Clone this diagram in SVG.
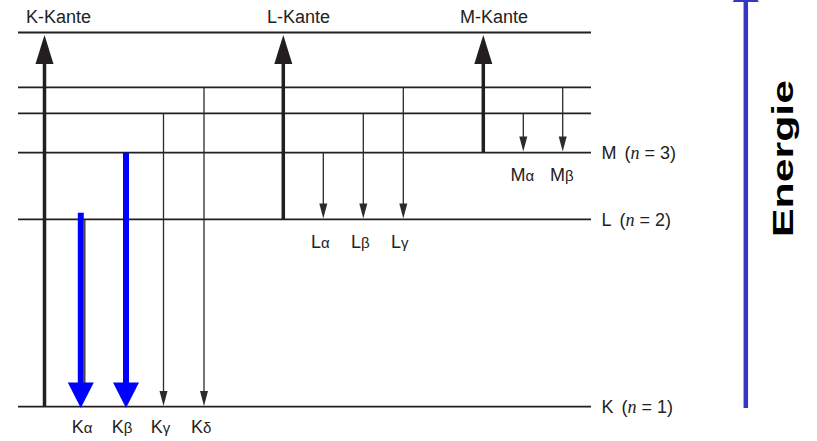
<svg xmlns="http://www.w3.org/2000/svg" xmlns:xlink="http://www.w3.org/1999/xlink" width="817" height="441" viewBox="0 0 817 441">
  <style>
    .level { stroke: #231f20; stroke-width: 1.8; fill: none; }
    .thin { stroke: #2b2b2b; stroke-width: 1.3; fill: none; }
    .edge { stroke: #231f20; stroke-width: 3.5; fill: none; }
    .blue { stroke: #0000ff; stroke-width: 6; fill: none; }
    .lbl { font-family: "Liberation Sans", Arial, sans-serif; font-size: 18px; fill: #222; }
    .sub { font-size: 15px; }
    .var { font-family: "Liberation Serif", "Times New Roman", serif; font-style: italic; }
    .axis { font-family: "Liberation Sans", Arial, sans-serif; font-weight: bold; font-size: 30px; fill: #000; }
  </style>
  <defs>
    <path id="head-thin" d="M-4,-15 L4,-15 L0,0 Z" fill="#2b2b2b"/>
    <path id="head-edge" d="M-9,29 L9,29 L0,0 Z" fill="#231f20"/>
    <path id="head-blue" d="M-13,-25.5 L13,-25.5 L0,0 Z" fill="#0000ff"/>
  </defs>

  <!-- energy levels -->
  <g id="levels">
    <line id="level-top" class="level" x1="18" y1="32.5" x2="591" y2="32.5"/>
    <line id="level-2" class="level" x1="18" y1="87.3" x2="591" y2="87.3"/>
    <line id="level-3" class="level" x1="18" y1="113.3" x2="591" y2="113.3"/>
    <line id="level-M" class="level" x1="18" y1="152.7" x2="591" y2="152.7"/>
    <line id="level-L" class="level" x1="18" y1="219.3" x2="591" y2="219.3"/>
    <line id="level-K" class="level" x1="18" y1="406.7" x2="591" y2="406.7"/>
  </g>

  <!-- transitions -->
  <g id="connectors">
    <!-- absorption edges -->
    <line class="edge" x1="44.5" y1="406.7" x2="44.5" y2="60"/>
    <use xlink:href="#head-edge" x="44.5" y="35"/>
    <line class="edge" x1="283.3" y1="219.3" x2="283.3" y2="60"/>
    <use xlink:href="#head-edge" x="283.3" y="35"/>
    <line class="edge" x1="483.3" y1="152.7" x2="483.3" y2="60"/>
    <use xlink:href="#head-edge" x="483.3" y="35"/>

    <!-- K series -->
    <line class="thin" x1="84.8" y1="219.3" x2="84.8" y2="385"/>
    <line class="blue" x1="80.8" y1="212.7" x2="80.8" y2="384"/>
    <use xlink:href="#head-blue" x="80.8" y="408"/>
    <line class="blue" x1="126" y1="152.7" x2="126" y2="384"/>
    <use xlink:href="#head-blue" x="126" y="408"/>
    <line class="thin" x1="163.5" y1="113.3" x2="163.5" y2="392"/>
    <use xlink:href="#head-thin" x="163.5" y="406"/>
    <line class="thin" x1="204" y1="87.3" x2="204" y2="392"/>
    <use xlink:href="#head-thin" x="204" y="406"/>

    <!-- L series -->
    <line class="thin" x1="323.3" y1="152.7" x2="323.3" y2="205"/>
    <use xlink:href="#head-thin" x="323.3" y="218.6"/>
    <line class="thin" x1="363.3" y1="113.3" x2="363.3" y2="205"/>
    <use xlink:href="#head-thin" x="363.3" y="218.6"/>
    <line class="thin" x1="403.3" y1="87.3" x2="403.3" y2="205"/>
    <use xlink:href="#head-thin" x="403.3" y="218.6"/>

    <!-- M series -->
    <line class="thin" x1="523.3" y1="113.3" x2="523.3" y2="138"/>
    <use xlink:href="#head-thin" x="523.3" y="151.5"/>
    <line class="thin" x1="562.7" y1="87.3" x2="562.7" y2="138"/>
    <use xlink:href="#head-thin" x="562.7" y="151.5"/>

    <!-- energy axis -->
    <line stroke="#3535c8" stroke-width="4.5" x1="745.8" y1="408" x2="745.8" y2="0"/>
    <path d="M732.8,2 L758.8,2 L745.8,-22 Z" fill="#3535c8"/>
  </g>

  <!-- edge labels -->
  <g id="edge-labels">
    <text class="lbl" x="26" y="22.7">K-Kante</text>
    <text class="lbl" x="267" y="22.7">L-Kante</text>
    <text class="lbl" x="460" y="22.7">M-Kante</text>
  </g>

  <!-- shell labels -->
  <g id="shell-labels">
    <text class="lbl" x="601.5" y="159.3">M<tspan dx="8">(</tspan><tspan class="var">n</tspan> = 3)</text>
    <text class="lbl" x="601.5" y="226">L<tspan dx="8">(</tspan><tspan class="var">n</tspan> = 2)</text>
    <text class="lbl" x="601.5" y="413">K<tspan dx="8">(</tspan><tspan class="var">n</tspan> = 1)</text>
  </g>

  <!-- line labels -->
  <g id="line-labels">
    <text class="lbl" x="71.7" y="432.7">K<tspan class="sub">α</tspan></text>
    <text class="lbl" x="111.7" y="432.7">K<tspan class="sub">β</tspan></text>
    <text class="lbl" x="150.7" y="432.7">K<tspan class="sub">γ</tspan></text>
    <text class="lbl" x="191" y="432.7">K<tspan class="sub">δ</tspan></text>
    <text class="lbl" x="311" y="248">L<tspan class="sub">α</tspan></text>
    <text class="lbl" x="351" y="248">L<tspan class="sub">β</tspan></text>
    <text class="lbl" x="391" y="248">L<tspan class="sub">γ</tspan></text>
    <text class="lbl" x="510.5" y="181">M<tspan class="sub">α</tspan></text>
    <text class="lbl" x="550" y="181">M<tspan class="sub">β</tspan></text>
  </g>

  <!-- axis title -->
  <g id="axis-label">
    <text class="axis" transform="translate(793.3,158.5) rotate(-90)" text-anchor="middle" textLength="157" lengthAdjust="spacingAndGlyphs">Energie</text>
  </g>
</svg>
